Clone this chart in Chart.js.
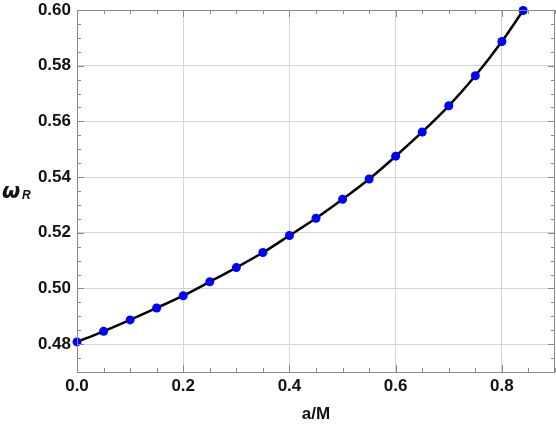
<!DOCTYPE html>
<html>
<head>
<meta charset="utf-8">
<script src="https://cdn.jsdelivr.net/npm/chart.js@4.4.1/dist/chart.umd.min.js"></script>
<style>
  html, body { margin: 0; padding: 0; background: #fff; }
  #wrap { width: 556px; height: 425px; }
</style>
</head>
<body>
<div id="wrap"><canvas id="myChart" width="556" height="425"></canvas></div>
<script>
// spin parameter a/M and real part of the frequency
const spin = [0, 0.05, 0.1, 0.15, 0.2, 0.25, 0.3, 0.35, 0.4, 0.45, 0.5, 0.55, 0.6, 0.65, 0.7, 0.75, 0.8, 0.84];
const omegaR = [0.4808, 0.4846, 0.4887, 0.4930, 0.4974, 0.5024, 0.5075, 0.5129, 0.5190, 0.5252,
                0.5320, 0.5393, 0.5475, 0.5562, 0.5656, 0.5764, 0.5887, 0.5998];
const xTicks = [0, 0.2, 0.4, 0.6, 0.8];
const yTicks = [0.48, 0.50, 0.52, 0.54, 0.56, 0.58, 0.60];
const xMinorStep = 0.05;
const yMinorStep = 0.005;

const labelFont = { family: 'Liberation Sans, Arial, sans-serif', size: 17, weight: 'bold' };

// inward ticks on all four sides + frame, Mathematica style
const frameTicks = {
  id: 'frameTicks',
  afterDraw(chart) {
    const ctx = chart.ctx;
    const a = chart.chartArea;
    const xs = chart.scales.x, ys = chart.scales.y;
    ctx.save();
    ctx.strokeStyle = '#8a8a8a';
    ctx.lineWidth = 1;
    ctx.beginPath();
    // x ticks
    for (let v = xs.min; v <= xs.max + 1e-9; v += xMinorStep) {
      const major = xTicks.some(t => Math.abs(t - v) < 1e-6);
      const len = major ? 7 : 4;
      const px = Math.round(xs.getPixelForValue(v)) + 0.5;
      ctx.moveTo(px, a.bottom); ctx.lineTo(px, a.bottom - len);
      ctx.moveTo(px, a.top); ctx.lineTo(px, a.top + len);
    }
    // y ticks
    for (let v = ys.min; v <= ys.max + 1e-9; v += yMinorStep) {
      const major = yTicks.some(t => Math.abs(t - v) < 1e-6);
      const len = major ? 7 : 4;
      const py = Math.round(ys.getPixelForValue(v)) + 0.5;
      ctx.moveTo(a.left, py); ctx.lineTo(a.left + len, py);
      ctx.moveTo(a.right, py); ctx.lineTo(a.right - len, py);
    }
    ctx.stroke();
    ctx.strokeRect(Math.round(a.left) + 0.5, Math.round(a.top) + 0.5,
                   Math.round(a.right - a.left) - 1, Math.round(a.bottom - a.top));
    ctx.restore();

    // y axis title: omega with subscript R
    ctx.save();
    ctx.fillStyle = '#111';
    ctx.textAlign = 'left';
    ctx.textBaseline = 'alphabetic';
    const cy = (a.top + a.bottom) / 2;
    ctx.font = 'italic bold 21px "DejaVu Sans", sans-serif';
    ctx.fillText('ω', 2, cy + 7);
    ctx.font = 'italic bold 12px "Liberation Sans", Arial, sans-serif';
    ctx.fillText('R', 22, cy + 8);
    ctx.restore();
  }
};

const config = {
  type: 'line',
  data: {
    datasets: [{
      data: spin.map((s, i) => ({ x: s, y: omegaR[i] })),
      borderColor: '#000000',
      borderWidth: 2.5,
      cubicInterpolationMode: 'monotone',
      pointRadius: 4.5,
      pointHoverRadius: 4.5,
      pointBackgroundColor: '#0000ff',
      pointBorderColor: '#0000ff',
      pointBorderWidth: 0,
      clip: false
    }]
  },
  options: {
    responsive: false,
    animation: false,
    layout: { autoPadding: false, padding: { top: 10, right: 1, left: 0, bottom: 0 } },
    plugins: {
      legend: { display: false },
      tooltip: { enabled: false }
    },
    scales: {
      x: {
        type: 'linear',
        min: 0,
        max: 0.9,
        afterBuildTicks(scale) { scale.ticks = xTicks.map(v => ({ value: v })); },
        afterFit(scale) {
          scale.height = 53;
          scale.paddingLeft = 0;
          scale.paddingRight = 0;
        },
        grid: { color: '#d4d4d4', lineWidth: 1, drawTicks: false },
        border: { display: false },
        ticks: {
          color: '#111',
          font: labelFont,
          padding: 4,
          maxRotation: 0,
          callback: v => v.toFixed(1)
        },
        title: {
          display: true,
          text: 'a/M',
          color: '#111',
          font: { family: 'Liberation Sans, Arial, sans-serif', size: 17, weight: 'bold' },
          padding: { top: 8, bottom: 0 }
        }
      },
      y: {
        type: 'linear',
        min: 0.47,
        max: 0.60,
        afterBuildTicks(scale) { scale.ticks = yTicks.map(v => ({ value: v })); },
        afterFit(scale) {
          scale.width = 77;
          scale.paddingTop = 0;
          scale.paddingBottom = 0;
        },
        grid: { color: '#d4d4d4', lineWidth: 1, drawTicks: false },
        border: { display: false },
        ticks: {
          color: '#111',
          font: labelFont,
          padding: 6,
          callback: v => v.toFixed(2)
        }
      }
    }
  },
  plugins: [frameTicks]
};

new Chart(document.getElementById('myChart'), config);
</script>
</body>
</html>
